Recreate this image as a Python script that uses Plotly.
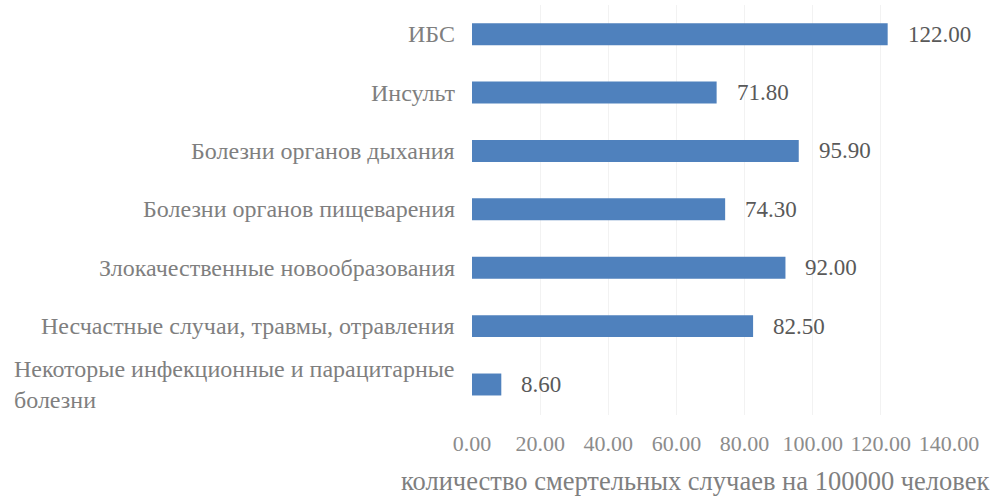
import plotly.graph_objects as go

# Causes of death, listed top to bottom
categories = [
    "ИБС",
    "Инсульт",
    "Болезни органов дыхания",
    "Болезни органов пищеварения",
    "Злокачественные новообразования",
    "Несчастные случаи, травмы, отравления",
    "Некоторые инфекционные и парацитарные<br>болезни",
]
values = [122.00, 71.80, 95.90, 74.30, 92.00, 82.50, 8.60]
tick_values = [0, 20, 40, 60, 80, 100, 120, 140]
tick_labels = ["0.00", "20.00", "40.00", "60.00", "80.00", "100.00", "120.00", "140.00"]
axis_title = "количество смертельных случаев на 100000 человек"

SERIF = "Liberation Serif"
GRAY = "#7f7f7f"
BAR = "#4f81bd"

fig = go.Figure(
    go.Bar(
        x=values,
        y=categories,
        orientation="h",
        marker=dict(color=BAR, line=dict(width=0)),
        hoverinfo="skip",
    )
)

# value labels to the right of each bar
for cat, val in zip(categories, values):
    fig.add_annotation(
        x=val, y=cat, xref="x", yref="y",
        text=f"{val:.2f}", showarrow=False,
        xanchor="left", xshift=18,
        font=dict(family=SERIF, size=23, color="#595959"),
    )

# category labels, right-anchored and left-aligned within the block
for cat in categories:
    fig.add_annotation(
        x=0, y=cat, xref="paper", yref="y",
        text=cat, showarrow=False,
        xanchor="right", xshift=-15, align="left",
        font=dict(family=SERIF, size=24, color=GRAY),
    )

# x-axis title, set slightly left of the plot centre
fig.add_annotation(
    x=0.4675, y=0, xref="paper", yref="paper",
    text=axis_title, showarrow=False,
    xanchor="center", yanchor="top", yshift=-49,
    font=dict(family=SERIF, size=26.5, color=GRAY),
)

fig.update_layout(
    width=996, height=497,
    margin=dict(l=472, r=47, t=5, b=82),
    paper_bgcolor="white", plot_bgcolor="white",
    showlegend=False,
    bargap=0.624,
    font=dict(family=SERIF),
    xaxis=dict(
        range=[0, 140],
        tickvals=tick_values,
        ticktext=tick_labels,
        showgrid=True, gridcolor="#f2f2f2", gridwidth=1,
        zeroline=False, showline=False, ticks="",
        tickfont=dict(family=SERIF, size=22, color="#8c8c8c"),
        ticklabelstandoff=13,
    ),
    yaxis=dict(
        categoryorder="array",
        categoryarray=categories[::-1],
        showticklabels=False,
        showgrid=False, zeroline=False, showline=False, ticks="",
    ),
)

fig.write_html("out.html")
